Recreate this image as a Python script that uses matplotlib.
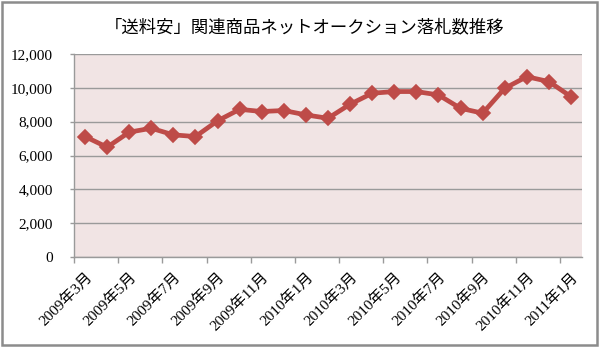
import numpy as np
import matplotlib
matplotlib.use("Agg")
import matplotlib.pyplot as plt
from matplotlib.patches import Rectangle
from matplotlib.transforms import ScaledTranslation

# Monthly successful-bid counts, March 2009 - January 2011
months = [
    "2009年3月", "2009年4月", "2009年5月", "2009年6月", "2009年7月", "2009年8月",
    "2009年9月", "2009年10月", "2009年11月", "2009年12月", "2010年1月", "2010年2月",
    "2010年3月", "2010年4月", "2010年5月", "2010年6月", "2010年7月", "2010年8月",
    "2010年9月", "2010年10月", "2010年11月", "2010年12月", "2011年1月",
]
bids = [
    7120, 6490, 7380, 7610, 7220, 7120, 8050, 8730, 8600, 8660, 8400, 8200,
    9030, 9680, 9780, 9780, 9580, 8790, 8500, 9970, 10660, 10370, 9480,
]
yticks = [0, 2000, 4000, 6000, 8000, 10000, 12000]
title = "「送料安」関連商品ネットオークション落札数推移"

serif_jp = ["Liberation Serif", "Noto Sans CJK JP"]
line_color = "#BE4B48"
grid_color = "#9A9A9A"

fig = plt.figure(figsize=(6.0, 3.47), dpi=100)
ax = fig.add_axes([74 / 600, 1 - 257 / 347, 508 / 600, 203 / 347])
ax.set_facecolor("#F1E4E4")

x = np.arange(len(months))
ax.plot(x, bids, color=line_color, linewidth=3.4, marker="D", markersize=7,
        markeredgewidth=1.2, markeredgecolor=line_color, markerfacecolor=line_color,
        zorder=3, solid_joinstyle="round")

ax.set_xlim(-0.5, len(months) - 0.5)
ax.set_ylim(0, 12000)

# y axis
ax.set_yticks(yticks)
ax.set_yticklabels([f"{v:,}" for v in yticks], fontfamily="Liberation Serif", fontsize=11)
ax.yaxis.grid(True, color=grid_color, linewidth=1.0)
ax.set_axisbelow(True)
ax.tick_params(axis="y", length=3, width=1.0, color=grid_color, pad=12)

# x axis: tick marks on category boundaries, labels at every other category
ax.set_xticks(np.arange(-0.5, len(months) - 0.5, 2), minor=False)
ax.set_xticklabels([])
ax.tick_params(axis="x", which="major", length=4, width=1.0, color=grid_color)
label_pos = np.arange(0, len(months), 2)
ax.set_xticks(label_pos, minor=True)
ax.set_xticklabels([months[i] for i in label_pos], minor=True)
ax.tick_params(axis="x", which="minor", length=0, pad=13)
shift = ScaledTranslation(5 / 100, 0, fig.dpi_scale_trans)
for lab in ax.get_xticklabels(minor=True):
    lab.set_family(serif_jp)
    lab.set_fontsize(11)
    lab.set_rotation(45)
    lab.set_ha("right")
    lab.set_va("center")
    lab.set_rotation_mode("anchor")
    lab.set_transform(lab.get_transform() + shift)

for side in ("top", "right"):
    ax.spines[side].set_visible(False)
for side in ("left", "bottom"):
    ax.spines[side].set_color(grid_color)
    ax.spines[side].set_linewidth(1.0)

fig.text(305 / 600, 1 - 27 / 347, title, ha="center", va="center",
         fontfamily=["Noto Sans CJK JP"], fontsize=12.5)

# chart frame
fig.patches.append(Rectangle((2 / 600, 2 / 347), 595 / 600, 343 / 347,
                             transform=fig.transFigure, fill=False,
                             edgecolor="#8C8C8C", linewidth=1.8))

fig.savefig("out.png", dpi=100, facecolor="white")
